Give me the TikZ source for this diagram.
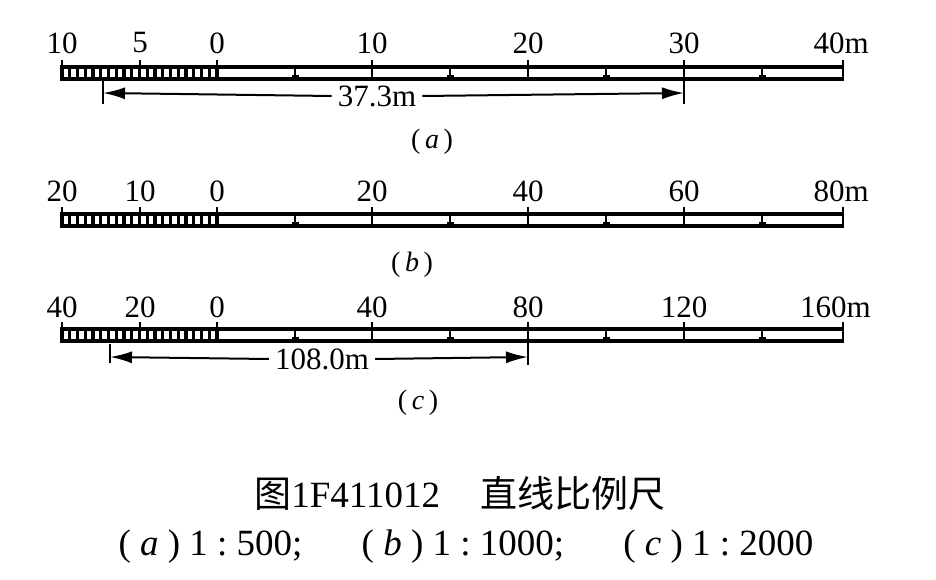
\documentclass[tikz,border=0pt]{standalone}
\usepackage{fontspec}
\setmainfont{Liberation Serif}
\newfontfamily\cjk{Noto Sans CJK SC}
\usetikzlibrary{arrows.meta}
\newcommand\rulerbar[2]{%
  \draw[barline] (60,#1) -- (844,#1);
  \draw[barline] (60,#2) -- (844,#2);
  \foreach \i in {0,...,20} \draw[cell] ({62+\i*7.75},#1) -- ({62+\i*7.75},#2);
  \foreach \xx in {62,140,217,372,528,684} \draw[tk] (\xx,#1-7) -- (\xx,#2);
  \foreach \xx in {295,450,606,762} {\draw[tk] (\xx,#1) -- (\xx,#2); \draw[tk] (\xx-3.5,#2-2.5) -- (\xx+3.5,#2-2.5);}
  \draw[tk] (843,#1-7) -- (843,#2);
}
\begin{document}
\begin{tikzpicture}[x=1pt,y=-1pt,
  lab/.style={font=\fontsize{31}{31}\selectfont, inner sep=0pt},
  sublab/.style={font=\fontsize{28}{28}\selectfont, inner sep=0pt},
  captext/.style={font=\fontsize{37}{37}\selectfont, inner sep=0pt},
  barline/.style={line width=3.2pt},
  cell/.style={line width=3.2pt},
  tk/.style={line width=2.8pt},
  dimline/.style={line width=2pt},
  dimlab/.style={font=\fontsize{31}{31}\selectfont, inner sep=0pt, fill=white, inner xsep=6pt},
  arr/.style={dimline, -{Latex[length=22pt,width=12pt]}}]
\useasboundingbox[fill=white] (0,0) rectangle (936,580);

% ---------- (a) ----------
\rulerbar{67}{79}
\node[lab] (a10l) at (62,43) {10};
\node[lab] (a5l)  at (140,43) {5};
\node[lab] (a0)   at (217,43) {0};
\node[lab] (a10)  at (372,43) {10};
\node[lab] (a20)  at (528,43) {20};
\node[lab] (a30)  at (684,43) {30};
\node[lab, anchor=east] (a40) at (869,43) {40m};
\coordinate (aL) at (103,93);
\coordinate (aR) at (684,93);
\draw[dimline] (103,79) -- (103,104);
\draw[tk] (684,79) -- (684,104);
\node[dimlab] (adim) at (377,96) {37.3m};
\draw[arr] (adim.west) -- (aL);
\draw[arr] (adim.east) -- (aR);
\node[sublab] (acap) at (432,142) {(\,\textit{a}\,)};

% ---------- (b) ----------
\rulerbar{214}{226}
\node[lab] (b20l) at (62,191) {20};
\node[lab] (b10l) at (140,191) {10};
\node[lab] (b0)   at (217,191) {0};
\node[lab] (b20)  at (372,191) {20};
\node[lab] (b40)  at (528,191) {40};
\node[lab] (b60)  at (684,191) {60};
\node[lab, anchor=east] (b80) at (869,191) {80m};
\node[sublab] (bcap) at (412,265) {(\,\textit{b}\,)};

% ---------- (c) ----------
\rulerbar{329}{341}
\node[lab] (c40l) at (62,307) {40};
\node[lab] (c20l) at (140,307) {20};
\node[lab] (c0)   at (217,307) {0};
\node[lab] (c40)  at (372,307) {40};
\node[lab] (c80)  at (528,307) {80};
\node[lab] (c120) at (684,307) {120};
\node[lab, anchor=east] (c160) at (871,307) {160m};
\coordinate (cL) at (110,357);
\coordinate (cR) at (528,357);
\draw[dimline] (110,344) -- (110,363);
\draw[tk] (528,341) -- (528,365);
\node[dimlab] (cdim) at (322,359) {108.0m};
\draw[arr] (cdim.west) -- (cL);
\draw[arr] (cdim.east) -- (cR);
\node[sublab] (ccap) at (418,403) {(\,\textit{c}\,)};

% ---------- caption ----------
\node[captext] (title) at (460,493) {{\cjk 图}1F411012\hspace{1.1em}{\cjk 直线比例尺}};
\node[captext] (sub) at (466,547) {(\ \textit{a}\ )\ 1\ :\ 500;\hspace{1.6em}(\ \textit{b}\ )\ 1\ :\ 1000;\hspace{1.6em}(\ \textit{c}\ )\ 1\ :\ 2000};
\end{tikzpicture}
\end{document}
